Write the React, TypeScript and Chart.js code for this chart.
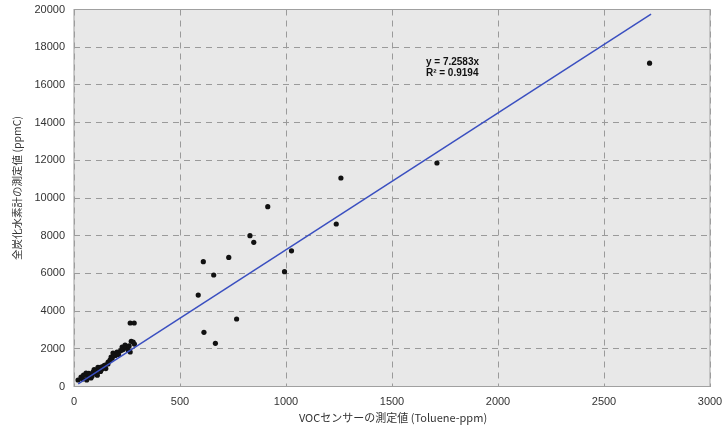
import React, { useEffect, useRef } from "react";
import { Chart, registerables } from "chart.js";

Chart.register(...registerables);

const vocX: number[] = [
  19, 33, 40, 45, 57, 60, 65, 70, 76, 80, 85, 90, 95, 100, 105, 113, 110, 120, 125, 128, 130, 140, 147, 150, 161, 160, 170, 175, 180, 184, 195, 203, 210, 220, 227, 230, 241, 245, 255, 260, 265, 270, 279, 285, 265, 284,
  586, 610, 613, 659, 667, 730, 767, 830, 848, 914, 993, 1026, 1237, 1259, 1712, 2715,
];
const thcY: number[] = [
  345, 504, 400, 600, 716, 350, 500, 700, 610, 450, 550, 770, 900, 700, 850, 1020, 600, 1000, 800, 1035, 900, 1100, 1140, 950, 1300, 1200, 1400, 1565, 1500, 1777, 1650, 1830, 1700, 1900, 2095, 1950, 2200, 2050, 1936, 2150, 1830, 2400, 2360, 2250, 3370, 3370,
  4850, 6620, 2875, 5915, 2290, 6850, 3580, 8000, 7650, 9540, 6090, 7200, 8620, 11060, 11857, 17150,
];
const trendSlope = 7.2583;
const trendR2 = 0.9194;
const trendX: number[] = [20, 2722];
const xTicks: number[] = [0, 500, 1000, 1500, 2000, 2500, 3000];
const yTicks: number[] = [0, 2000, 4000, 6000, 8000, 10000, 12000, 14000, 16000, 18000, 20000];
const xTitle = "VOCセンサーの測定値 (Toluene-ppm)";
const yTitle = "全炭化水素計の測定値 (ppmC)";
const eqText = "y = 7.2583x";
const r2Text = "R² = " + trendR2.toFixed(4);

export default function App() {
  const ref = useRef<HTMLCanvasElement | null>(null);
  useEffect(() => {
    document.body.style.margin = "0";
    const canvas = ref.current!;
    const decor = {
      id: "decor",
      beforeDraw(chart: any) {
        const { ctx, chartArea: a } = chart;
        ctx.save();
        ctx.fillStyle = "#e8e8e8";
        ctx.fillRect(a.left, a.top, a.right - a.left, a.bottom - a.top);
        ctx.restore();
      },
      afterDraw(chart: any) {
        const { ctx, chartArea: a, scales } = chart;
        ctx.save();
        ctx.strokeStyle = "#a0a0a0";
        ctx.lineWidth = 1;
        ctx.strokeRect(a.left, a.top, a.right - a.left, a.bottom - a.top);
        ctx.fillStyle = "#333";
        ctx.font = "11px 'Noto Sans CJK JP', 'Liberation Sans', sans-serif";
        ctx.textAlign = "center";
        ctx.textBaseline = "middle";
        ctx.fillText(xTitle, 393, 418);
        ctx.font = "10.5px 'Noto Sans CJK JP', 'Liberation Sans', sans-serif";
        ctx.translate(17, 188);
        ctx.rotate(-Math.PI / 2);
        ctx.fillText(yTitle, 0, 0);
        ctx.restore();
        ctx.save();
        ctx.fillStyle = "#111";
        ctx.font = "bold 10px 'Liberation Sans', Arial, sans-serif";
        ctx.textAlign = "left";
        ctx.textBaseline = "middle";
        const tx = scales.x.getPixelForValue(1660);
        ctx.fillText(eqText, tx, scales.y.getPixelForValue(17200));
        ctx.fillText(r2Text, tx, scales.y.getPixelForValue(16600));
        ctx.restore();
      },
    };
    const tickFont = { family: "'Liberation Sans', Arial, sans-serif", size: 11 };
    const chart = new Chart(canvas, {
      type: "scatter",
      data: {
        datasets: [
          {
            type: "line",
            data: trendX.map((x) => ({ x, y: trendSlope * x })),
            borderColor: "#3a4fc0",
            borderWidth: 1.5,
            pointRadius: 0,
            fill: false,
          } as any,
          {
            data: vocX.map((x, i) => ({ x, y: thcY[i] })),
            backgroundColor: "#111",
            borderColor: "#111",
            pointRadius: 2.6,
            pointBorderWidth: 0,
          },
        ],
      },
      options: {
        animation: false,
        responsive: false,
        events: [],
        layout: { padding: { left: 0, top: 9.5, right: 13, bottom: 0 } },
        plugins: { legend: { display: false }, tooltip: { enabled: false } },
        scales: {
          x: {
            type: "linear",
            min: 0,
            max: 3000,
            afterFit: (s: any) => { s.height = 47.5; s.paddingLeft = 0; s.paddingRight = 0; },
            afterBuildTicks: (s: any) => { s.ticks = xTicks.map((v) => ({ value: v })); },
            border: { display: false, dash: [6, 5] },
            grid: { color: "#9a9a9a", drawTicks: false } as any,
            ticks: { padding: 9, color: "#333", font: tickFont, callback: (v: any) => String(v) },
          },
          y: {
            type: "linear",
            min: 0,
            max: 20000,
            afterFit: (s: any) => { s.width = 74; s.paddingTop = 0; s.paddingBottom = 0; },
            afterBuildTicks: (s: any) => { s.ticks = yTicks.map((v) => ({ value: v })); },
            border: { display: false, dash: [6, 5] },
            grid: { color: "#9a9a9a", drawTicks: false } as any,
            ticks: { padding: 9, color: "#333", font: tickFont, callback: (v: any) => String(v) },
          },
        },
      },
      plugins: [decor],
    } as any);
    return () => chart.destroy();
  }, []);
  return (
    <div style={{ position: "absolute", left: 0, top: 0, width: 723, height: 434, background: "#fff" }}>
      <canvas ref={ref} width={723} height={434} style={{ width: 723, height: 434 }} />
    </div>
  );
}
